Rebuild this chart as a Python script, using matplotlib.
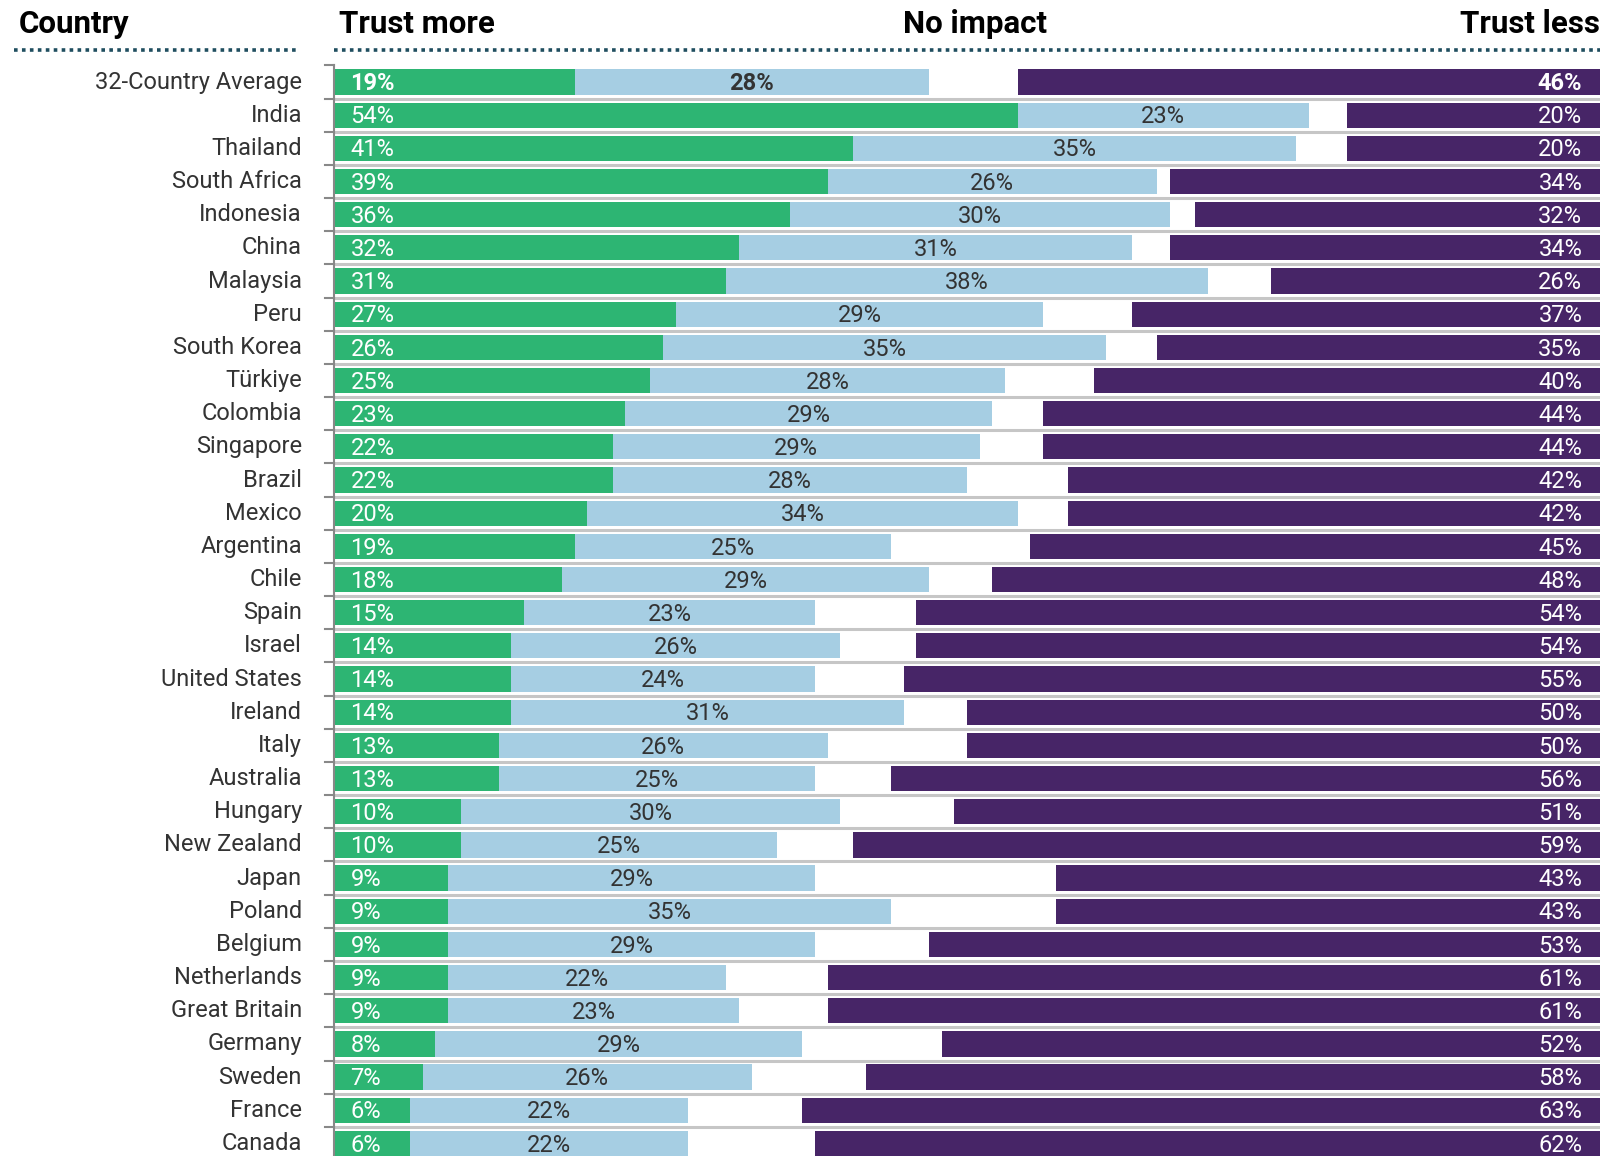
import matplotlib
matplotlib.use("Agg")
import matplotlib.pyplot as plt

countries = ["32-Country Average", "India", "Thailand", "South Africa", "Indonesia", "China",
             "Malaysia", "Peru", "South Korea", "Türkiye", "Colombia", "Singapore", "Brazil",
             "Mexico", "Argentina", "Chile", "Spain", "Israel", "United States", "Ireland",
             "Italy", "Australia", "Hungary", "New Zealand", "Japan", "Poland", "Belgium",
             "Netherlands", "Great Britain", "Germany", "Sweden", "France", "Canada"]
trust_more = [19, 54, 41, 39, 36, 32, 31, 27, 26, 25, 23, 22, 22, 20, 19, 18, 15, 14, 14, 14,
              13, 13, 10, 10, 9, 9, 9, 9, 9, 8, 7, 6, 6]
no_impact = [28, 23, 35, 26, 30, 31, 38, 29, 35, 28, 29, 29, 28, 34, 25, 29, 23, 26, 24, 31,
             26, 25, 30, 25, 29, 35, 29, 22, 23, 29, 26, 22, 22]
trust_less = [46, 20, 20, 34, 32, 34, 26, 37, 35, 40, 44, 44, 42, 42, 45, 48, 54, 54, 55, 50,
              50, 56, 51, 59, 43, 43, 53, 61, 61, 52, 58, 63, 62]
headers = ["Country", "Trust more", "No impact", "Trust less"]

plt.rcParams["font.family"] = ["Roboto", "DejaVu Sans"]

GREEN = "#2db573"
BLUE = "#a6cee3"
PURPLE = "#472567"
TEXT = "#333333"

W, H = 1624, 1156
fig = plt.figure(figsize=(W / 100, H / 100), dpi=100)

row_h = 33.17
first_center = 82
ax_left, ax_right = 334, 1600
ax_top = first_center - row_h / 2
ax = fig.add_axes([ax_left / W, 0, (ax_right - ax_left) / W, (H - ax_top) / H])
n = len(countries)
ax.set_xlim(0, 100)
ax.set_ylim(-0.5 + (H - ax_top) / row_h, -0.5)
ax.axis("off")

ys = list(range(n))
bh = 0.76
ax.barh(ys, trust_more, height=bh, color=GREEN, left=0)
ax.barh(ys, no_impact, height=bh, color=BLUE, left=trust_more)
ax.barh(ys, trust_less, height=bh, color=PURPLE, left=[100 - v for v in trust_less])

# separators between rows
for i in range(n):
    ax.axhline(i + 0.5, color="#c6c6c6", lw=2.2, zorder=0)
    ax.plot([-0.7, 0], [i - 0.5, i - 0.5], color="#888888", lw=1.5, clip_on=False)
ax.plot([0, 0], [-0.5, n], color="#888888", lw=1.5, clip_on=False, zorder=5)

fs = 17
for i in range(n):
    wt = "bold" if i == 0 else "normal"
    ax.text(1.3, i + 0.05, f"{trust_more[i]}%", color="white", fontsize=fs, fontweight=wt,
            ha="left", va="center")
    ax.text(trust_more[i] + no_impact[i] / 2, i + 0.05, f"{no_impact[i]}%", color=TEXT,
            fontsize=fs, fontweight=wt, ha="center", va="center")
    ax.text(98.6, i + 0.05, f"{trust_less[i]}%", color="white", fontsize=fs, fontweight=wt,
            ha="right", va="center")
    fig.text(302 / W, 1 - (first_center + i * row_h) / H, countries[i], color=TEXT,
             fontsize=fs, ha="right", va="center")

# column headers with dotted rules
hy = 1 - 24 / H
hfs = 22.5
fig.text(19 / W, hy, headers[0], fontsize=hfs, fontweight="bold", ha="left", va="center")
fig.text(339 / W, hy, headers[1], fontsize=hfs, fontweight="bold", ha="left", va="center")
fig.text(975 / W, hy, headers[2], fontsize=hfs, fontweight="bold", ha="center", va="center")
fig.text(ax_right / W, hy, headers[3], fontsize=hfs, fontweight="bold", ha="right", va="center")

ly = 1 - 50 / H
for x0, x1 in [(14, 298), (334, 1600)]:
    fig.add_artist(plt.Line2D([x0 / W, x1 / W], [ly, ly], color="#1f4e5f", lw=2.6,
                              linestyle=(0, (1.0, 1.2)), transform=fig.transFigure))

fig.savefig("out.png", dpi=100)
